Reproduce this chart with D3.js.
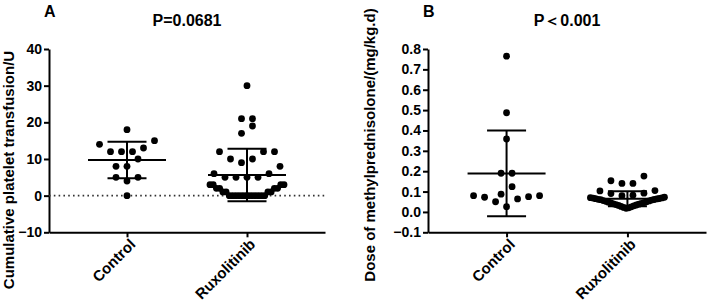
<!DOCTYPE html>
<html>
<head>
<meta charset="utf-8">
<script src="https://cdn.jsdelivr.net/npm/d3@7"></script>
<style>
  body { margin: 0; background: #fff; }
  text { font-family: Arial, "Liberation Sans", sans-serif; font-weight: bold; fill: #000; }
</style>
</head>
<body>
<div id="app"></div>
<script>
'use strict'

// categories
const groups = ['Control', 'Ruxolitinib']

// panel A: cumulative platelet transfusion (U)
const plateletControl = [18, 15, 14, 13, 12, 12, 12, 10, 8, 8, 5, 5, 4, 0]
const plateletRux = [30, 21, 21, 19, 17, 12, 12, 12, 10, 10, 9, 8, 6, 6, 5, 5, 5, 5,
  3, 3, 3, 3, 2, 2, 2, 2, 1, 1, 1, 1, 0, 0, 0, 0, 0, 0, 0, 0, 0, 0, 0, 0]
const plateletTicks = [-10, 0, 10, 20, 30, 40]

// panel B: dose of methylprednisolone (mg/kg.d)
const steroidControl = [0.765, 0.487, 0.358, 0.19, 0.19, 0.124, 0.087, 0.08, 0.08,
  0.075, 0.072, 0.064, 0.05, 0.026]
const steroidRux = [0.176, 0.153, 0.14, 0.14, 0.105, 0.103, 0.092, 0.09, 0.082, 0.08,
  0.072, 0.07, 0.069, 0.068, 0.066, 0.065, 0.064, 0.062, 0.061, 0.06, 0.058, 0.056,
  0.054, 0.052, 0.05, 0.048, 0.046, 0.044, 0.042, 0.04, 0.038, 0.036, 0.034, 0.032,
  0.03, 0.027, 0.025, 0.022, 0.02, 0.018]
const steroidTicks = [-0.1, 0, 0.1, 0.2, 0.3, 0.4, 0.5, 0.6, 0.7, 0.8]

const panels = [
  { letter: 'A', p: 'P=0.0681', label: 'Cumulative platelet transfusion/U',
    data: [plateletControl, plateletRux], ticks: plateletTicks, domain: [-10, 40],
    fmt: d3.format('d'), left: 49, right: 325, labelX: 13.5, labelY: 170, zeroLine: true },
  { letter: 'B', p: 'P\uFF1C0.001', label: 'Dose of methylprednisolone/(mg/kg.d)',
    data: [steroidControl, steroidRux], ticks: steroidTicks, domain: [-0.1, 0.8],
    fmt: d3.format('.1f'), left: 428, right: 706, labelX: 375, labelY: 145, zeroLine: false }
]

const plotTop = 49, plotBottom = 232.3
const dotR = 3.4

const svg = d3.select('#app').append('svg')
  .attr('width', 708)
  .attr('height', 303)

/*
 * Scatter-dot layout: points whose values lie within one row height
 * share a row; in each row the lowest values sit in the middle and
 * the higher ones move outwards. Crowded rows are squeezed to fit.
 */
function scatterRows(values, y, rowH, step, halfW) {
  const pts = values.map(v => ({ v, y: y(v), dx: 0 })).sort((a, b) => a.v - b.v)
  const rows = []
  pts.forEach(p => {
    const row = rows[rows.length - 1]
    if (row && row[0].y - p.y <= rowH) row.push(p)
    else rows.push([p])
  })
  rows.forEach(row => {
    const n = row.length
    const s = n > 1 ? Math.min(step, 2 * halfW / (n - 1)) : step
    row.forEach((p, k) => {
      if (n % 2) {
        const j = Math.ceil(k / 2)
        p.dx = (k % 2 ? -1 : 1) * j * s
      } else {
        const j = Math.floor(k / 2) + 0.5
        p.dx = (k % 2 ? 1 : -1) * j * s
      }
    })
  })
  return pts
}

panels.forEach(pn => {
  const g = svg.append('g')

  const y = d3.scaleLinear().domain(pn.domain).range([plotBottom, plotTop])
  const x = d3.scalePoint().domain(groups).range([pn.left, pn.right]).padding(0.65)

  // y axis
  const ya = g.append('g')
    .attr('transform', `translate(${pn.left},0)`)
    .call(d3.axisLeft(y).tickValues(pn.ticks).tickFormat(pn.fmt).tickSize(5).tickSizeOuter(0).tickPadding(2))
  ya.selectAll('text').style('font-size', '14px')

  // x axis
  const xa = g.append('g')
    .attr('transform', `translate(0,${plotBottom})`)
    .call(d3.axisBottom(x).tickSize(5).tickSizeOuter(0))
  xa.selectAll('text')
    .style('font-size', '15px')
    .attr('text-anchor', 'end')
    .attr('transform', 'rotate(-45)')
    .attr('dx', '-0.2em')
    .attr('dy', '0.5em')

  g.selectAll('.domain, .tick line')
    .attr('stroke', '#000')
    .attr('stroke-width', 2)

  if (pn.zeroLine) {
    g.append('line')
      .attr('x1', pn.left).attr('x2', pn.right)
      .attr('y1', y(0)).attr('y2', y(0))
      .attr('stroke', '#333')
      .attr('stroke-width', 1.6)
      .attr('stroke-dasharray', '1.6,3.2')
  }

  // dots, mean and SD per group
  pn.data.forEach((vals, gi) => {
    const cx = x(groups[gi])
    const pts = scatterRows(vals, y, 11.2, 11, 37)

    g.append('g').selectAll('circle')
      .data(pts)
      .enter()
      .append('circle')
      .attr('cx', d => cx + d.dx)
      .attr('cy', d => d.y)
      .attr('r', dotR)
      .attr('fill', '#000')

    const m = d3.mean(vals)
    const sd = d3.deviation(vals)
    const lines = [
      [cx - 39, cx + 39, y(m), y(m)],
      [cx - 19.5, cx + 19.5, y(m + sd), y(m + sd)],
      [cx - 19.5, cx + 19.5, y(m - sd), y(m - sd)],
      [cx, cx, y(m + sd), y(m - sd)]
    ]
    g.append('g').selectAll('line')
      .data(lines)
      .enter()
      .append('line')
      .attr('x1', d => d[0]).attr('x2', d => d[1])
      .attr('y1', d => d[2]).attr('y2', d => d[3])
      .attr('stroke', '#000')
      .attr('stroke-width', 2)
  })

  // y label
  g.append('text')
    .attr('transform', `translate(${pn.labelX},${pn.labelY}) rotate(-90)`)
    .attr('text-anchor', 'middle')
    .style('font-size', '15px')
    .text(pn.label)

  // panel letter and p value
  g.append('text')
    .attr('x', pn.left - 5)
    .attr('y', 17)
    .style('font-size', '16px')
    .text(pn.letter)

  g.append('text')
    .attr('x', (x(groups[0]) + x(groups[1])) / 2)
    .attr('y', 26)
    .attr('text-anchor', 'middle')
    .style('font-size', '16px')
    .text(pn.p)
})
</script>
</body>
</html>
